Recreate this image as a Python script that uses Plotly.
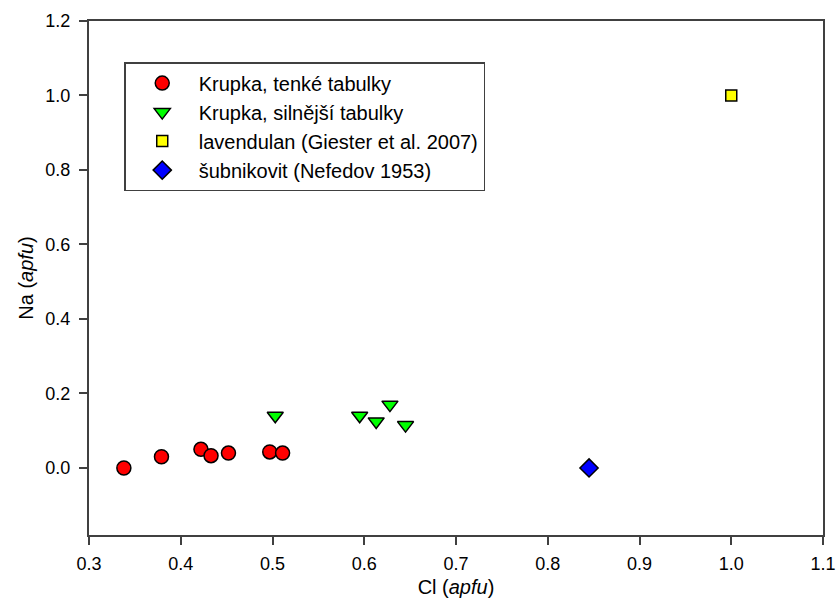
import plotly.graph_objects as go

# Data
thin_cl = [0.338, 0.379, 0.422, 0.433, 0.452, 0.497, 0.511]
thin_na = [0.000, 0.030, 0.050, 0.033, 0.040, 0.043, 0.040]
thick_cl = [0.503, 0.595, 0.613, 0.628, 0.645]
thick_na = [0.140, 0.140, 0.125, 0.170, 0.115]
lav_cl = [1.000]
lav_na = [1.000]
sub_cl = [0.845]
sub_na = [0.000]

x_ticks = [0.3, 0.4, 0.5, 0.6, 0.7, 0.8, 0.9, 1.0, 1.1]
y_ticks = [0.0, 0.2, 0.4, 0.6, 0.8, 1.0, 1.2]

names = ["Krupka, tenké tabulky", "Krupka, silnější tabulky",
         "lavendulan (Giester et al. 2007)", "šubnikovit (Nefedov 1953)"]

line = dict(color="black", width=1.5)
fig = go.Figure()
fig.add_trace(go.Scatter(x=thin_cl, y=thin_na, mode="markers", name=names[0],
                         marker=dict(symbol="circle", size=14, color="#ff0000", line=line)))
fig.add_trace(go.Scatter(x=thick_cl, y=thick_na, mode="markers", name=names[1],
                         marker=dict(symbol="triangle-down", size=14, color="#00ff00", line=line)))
fig.add_trace(go.Scatter(x=lav_cl, y=lav_na, mode="markers", name=names[2],
                         marker=dict(symbol="square", size=11, color="#ffff00", line=line)))
fig.add_trace(go.Scatter(x=sub_cl, y=sub_na, mode="markers", name=names[3],
                         marker=dict(symbol="diamond", size=14, color="#0000ff", line=line)))

axcol = "#404040"
fig.update_layout(
    width=838, height=600,
    margin=dict(l=89, r=15, t=21, b=65),
    paper_bgcolor="white", plot_bgcolor="white",
    font=dict(family="Liberation Sans, Arial, sans-serif", size=18, color="black"),
    xaxis=dict(range=[0.3, 1.1], tickvals=x_ticks,
               tickformat=".1f", showgrid=False, zeroline=False, automargin=False,
               showline=True, linecolor=axcol, linewidth=2, mirror=True,
               ticks="outside", ticklen=8, tickwidth=1.5, tickcolor=axcol,
               ticklabelstandoff=3,
               title=dict(text="Cl (<i>apfu</i>)", font=dict(size=20), standoff=7)),
    yaxis=dict(range=[-0.18, 1.2], tickvals=y_ticks,
               tickformat=".1f", showgrid=False, zeroline=False, automargin=False,
               showline=True, linecolor=axcol, linewidth=2, mirror=True,
               ticks="outside", ticklen=8, tickwidth=1.5, tickcolor=axcol,
               ticklabelstandoff=5,
               title=dict(text="Na (<i>apfu</i>)", font=dict(size=20), standoff=6)),
    legend=dict(x=0.048, y=0.92, xanchor="left", yanchor="top",
                bgcolor="white", bordercolor=axcol, borderwidth=1.5,
                font=dict(size=20), itemwidth=63),
    showlegend=True,
)

fig.write_html("out.html")
